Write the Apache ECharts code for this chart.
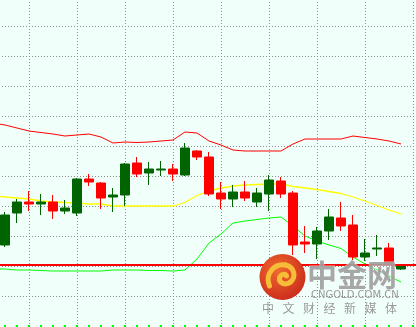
<!DOCTYPE html>
<html><head><meta charset="utf-8">
<script src="https://cdn.jsdelivr.net/npm/echarts@6/dist/echarts.min.js"></script>
<style>html,body{margin:0;padding:0;background:#f0fffa;}#c{width:416px;height:327px;}</style>
</head><body><div id="c"></div>
<script>
// Candles (34 bars): open, close, low, high
const opens  = [1277.1,1280.3,1281.4,1281.2,1281.4,1280.5,1280.3,1283.7,1283.3,1281.9,1282.1,1285.3,1284.3,1284.6,1284.7,1284.1,1286.5,1285.9,1282.3,1281.7,1282.4,1281.4,1282.2,1283.5,1282.3,1277.4,1277.2,1278.5,1279.8,1279.1,1275.9,1276.7,1276.8,1274.7];
const closes = [1280.1,1281.4,1281.2,1281.4,1280.5,1280.8,1283.7,1283.4,1281.8,1282.1,1285.2,1284.2,1284.7,1284.7,1284.2,1286.8,1285.9,1282.2,1281.7,1282.4,1281.8,1282.3,1283.6,1282.2,1277.1,1277.2,1278.5,1279.9,1279.0,1275.9,1276.3,1276.8,1275.3,1275.1];
const lows   = [1276.9,1279.3,1280.5,1280.1,1279.7,1280.2,1280.0,1283.0,1280.7,1280.4,1281.0,1283.9,1283.1,1284.0,1283.5,1284.0,1285.6,1282.0,1280.7,1280.9,1281.5,1280.9,1280.5,1281.8,1276.1,1276.3,1275.7,1277.6,1278.5,1275.6,1275.5,1276.0,1275.0,1274.6];
const highs  = [1280.4,1281.7,1282.5,1282.2,1282.1,1281.6,1283.8,1284.2,1283.4,1282.8,1285.3,1285.9,1285.4,1285.5,1285.2,1287.3,1286.6,1286.4,1283.4,1283.1,1283.5,1282.8,1284.1,1283.9,1282.5,1279.0,1278.9,1280.7,1281.4,1280.1,1277.7,1278.1,1277.3,1275.2];
// Bollinger bands (35 points: one bar before the first visible candle + 34)
const upperBand  = [1289.3,1289.1,1288.8,1288.5,1288.35,1288.2,1288.0,1288.1,1288.2,1287.9,1287.3,1287.4,1287.35,1287.4,1287.5,1287.6,1288.4,1288.3,1287.5,1287.1,1286.6,1286.5,1286.5,1286.5,1286.5,1287.2,1287.7,1287.7,1287.7,1287.7,1288.0,1287.85,1287.7,1287.5,1287.2];
const middleBand = [1282.0,1281.9,1281.8,1281.7,1281.5,1281.4,1281.35,1281.3,1281.2,1281.2,1281.0,1281.0,1281.0,1281.0,1281.0,1281.0,1281.35,1282.05,1282.5,1282.8,1283.0,1283.1,1283.15,1283.2,1283.2,1282.95,1282.8,1282.65,1282.45,1282.25,1281.9,1281.5,1281.05,1280.6,1280.2];
const lowerBand  = [1274.7,1274.7,1274.6,1274.6,1274.55,1274.5,1274.5,1274.5,1274.5,1274.5,1274.6,1274.6,1274.6,1274.55,1274.55,1274.5,1274.6,1275.7,1277.3,1278.2,1279.3,1279.5,1279.65,1279.8,1279.9,1279.0,1278.0,1277.5,1277.1,1276.75,1275.9,1275.2,1274.6,1274.0,1273.4];
const levelLine = 1275.1;
const trailingEmpty = 2;

const N = 1 + opens.length + trailingEmpty;
const categories = Array.from({length: N}, (_, i) => 'bar' + (i - 1));
const candleData = ['-'];
for (let i = 0; i < opens.length; i++) candleData.push([opens[i], closes[i], lows[i], highs[i]]);
for (let i = 0; i < trailingEmpty; i++) candleData.push('-');
const pad = a => a.concat(new Array(N - a.length).fill('-'));

const chart = echarts.init(document.getElementById('c'), null, {renderer: 'canvas'});
const wmChars = ['中','文','财','经','新','媒','体'];
const LX = 282.5, LY = 277;
const swirl = [
  [-13, 9, -18, -3, -8, -14, 3, -12],
  [3, -12, 12, -10, 14, 0, 8, 5],
  [8, 5, 3, 9, -4, 6, -3, 1],
  [-3, 1, -2, -3, 3, -4, 4, -1]
];
const graphics = [
  {type:'circle', shape:{cx:LX, cy:LY, r:23}, z:100,
   style:{fill:{type:'radial', x:0.4, y:0.35, r:0.75, colorStops:[{offset:0,color:'#ef6a2e'},{offset:1,color:'#c8261a'}]}}}
];
swirl.forEach(s => graphics.push({type:'bezierCurve', z:101, x:LX, y:LY,
  shape:{x1:s[0], y1:s[1], cpx1:s[2], cpy1:s[3], cpx2:s[4], cpy2:s[5], x2:s[6], y2:s[7]},
  style:{fill:null, stroke:'#f8bd38', lineWidth:5, lineCap:'round'}}));
graphics.push({type:'text', z:100, x:307, y:260, style:{text:'中金网', font:'bold 30px "Noto Sans CJK SC"', fill:'rgba(160,160,160,0.92)', stroke:'rgba(255,255,255,0.6)', lineWidth:1}});
graphics.push({type:'text', z:100, x:311, y:290, style:{text:'CNGOLD.COM.CN', font:'10px "DejaVu Sans"', fill:'#9a9a9a'}});
wmChars.forEach((ch, i) => graphics.push({type:'text', z:100, x:262 + i*20.5, y:302, style:{text:ch, font:'12px "Noto Sans CJK SC"', fill:'#9a9a9a'}}));

chart.setOption({
  animation: false,
  backgroundColor: '#f0fffa',
  grid: {left: -7, top: -4, width: 12 * (N - 1), height: 330, containLabel: false, outerBoundsMode: 'none'},
  xAxis: {
    type: 'category', data: categories, boundaryGap: false, offset: 1,
    axisLine: {show: false},
    axisTick: {show: true, inside: true, length: 2, interval: 0, lineStyle: {color: '#00ff00', width: 2}},
    axisLabel: {show: false},
    splitLine: {show: true, interval: (i) => i % 4 === 3, lineStyle: {color: '#8c8c8c', type: [1, 2], width: 1}}
  },
  yAxis: {
    type: 'value', min: 1269, max: 1302, interval: 3,
    axisLine: {show: false}, axisTick: {show: false}, axisLabel: {show: false},
    splitLine: {show: true, showMinLine: false, lineStyle: {color: '#8c8c8c', type: [1, 2], width: 1}}
  },
  graphic: graphics,
  series: [
    {type: 'line', data: pad(upperBand), symbol: 'none', z: 1, lineStyle: {color: '#ff0000', width: 1}},
    {type: 'line', data: pad(middleBand), symbol: 'none', z: 1, lineStyle: {color: '#ffff00', width: 1.3}},
    {type: 'line', data: pad(lowerBand), symbol: 'none', z: 1, lineStyle: {color: '#00ff00', width: 1}},
    {type: 'candlestick', data: candleData, barWidth: 9, z: 3,
     itemStyle: {color: '#006400', color0: '#ff0000', borderColor: '#006400', borderColor0: '#ff0000', borderWidth: 1},
     markLine: {silent: true, symbol: ['none', 'none'], label: {show: false},
       lineStyle: {color: '#ff0000', width: 2, type: 'solid'}, data: [{yAxis: levelLine}]}}
  ]
});
</script></body></html>
